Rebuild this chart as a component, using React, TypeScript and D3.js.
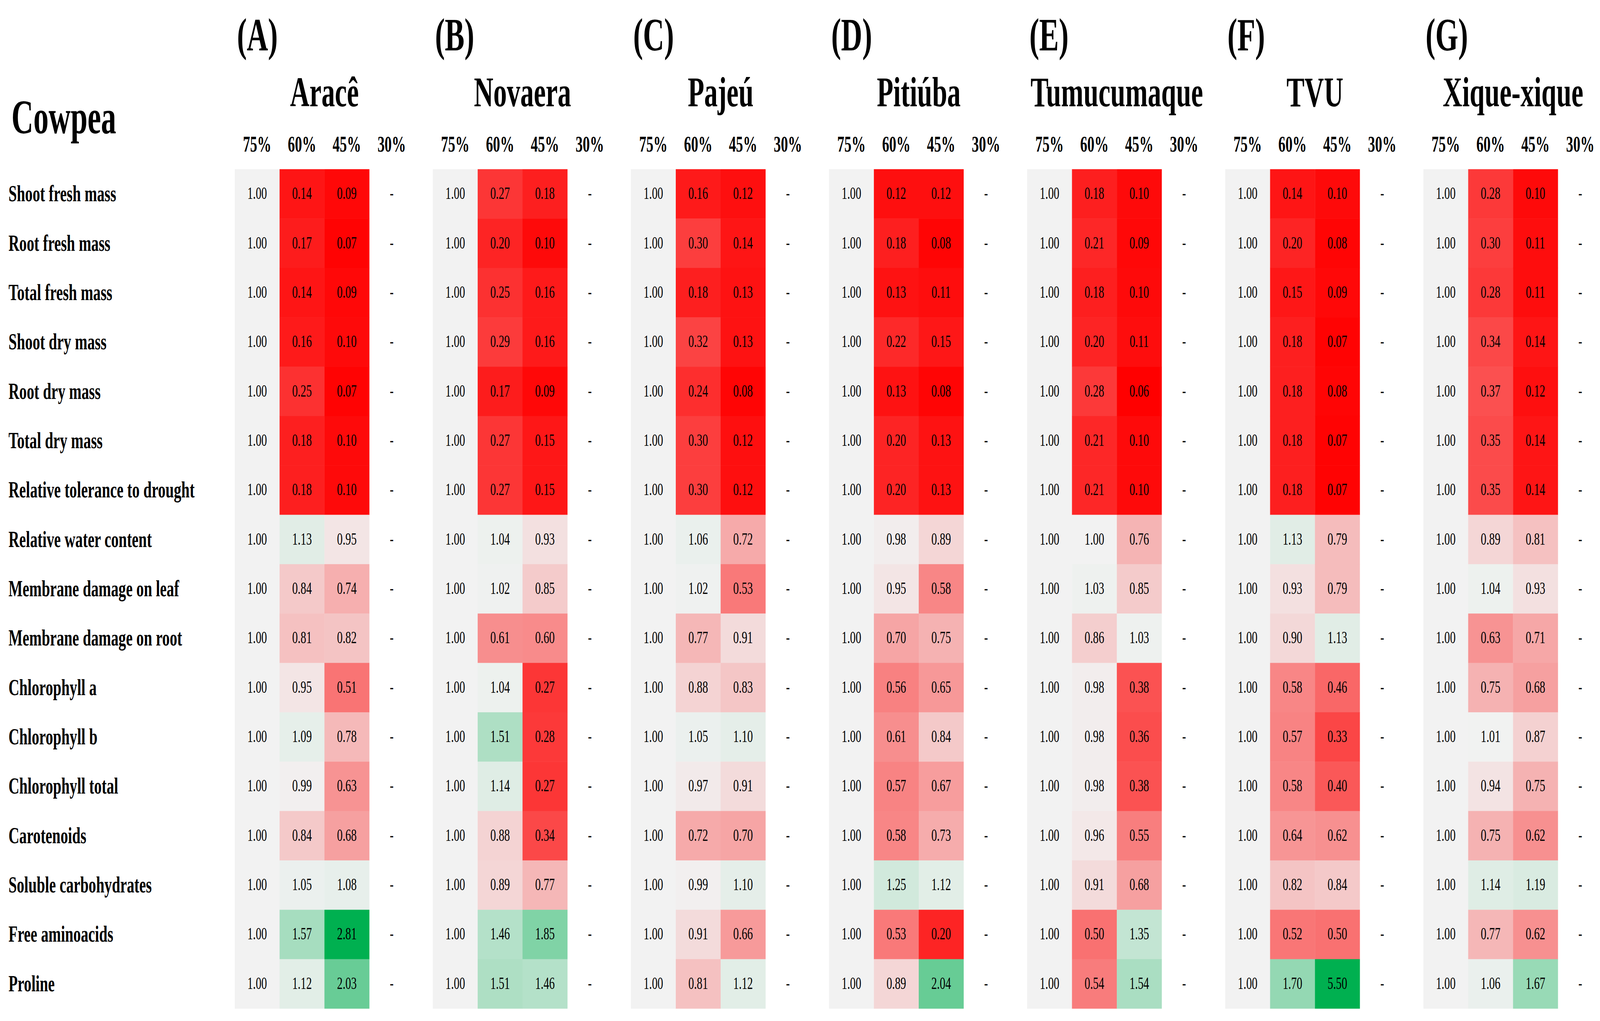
import React, { useEffect } from "react";
import * as d3 from "d3";

const traits = [
  "Shoot fresh mass",
  "Root fresh mass",
  "Total fresh mass",
  "Shoot dry mass",
  "Root dry mass",
  "Total dry mass",
  "Relative tolerance to drought",
  "Relative water content",
  "Membrane damage on leaf",
  "Membrane damage on root",
  "Chlorophyll a",
  "Chlorophyll b",
  "Chlorophyll total",
  "Carotenoids",
  "Soluble carbohydrates",
  "Free aminoacids",
  "Proline",
];

const levels = ["75%", "60%", "45%", "30%"];
const panelLetters = ["(A)", "(B)", "(C)", "(D)", "(E)", "(F)", "(G)"];
const cultivars = ["Aracê", "Novaera", "Pajeú", "Pitiúba", "Tumucumaque", "TVU", "Xique-xique"];

// 75% field capacity is the reference (1.00) for every trait
const control75 = [1.0, 1.0, 1.0, 1.0, 1.0, 1.0, 1.0, 1.0, 1.0, 1.0, 1.0, 1.0, 1.0, 1.0, 1.0, 1.0, 1.0];

const arace60 = [0.14, 0.17, 0.14, 0.16, 0.25, 0.18, 0.18, 1.13, 0.84, 0.81, 0.95, 1.09, 0.99, 0.84, 1.05, 1.57, 1.12];
const arace45 = [0.09, 0.07, 0.09, 0.1, 0.07, 0.1, 0.1, 0.95, 0.74, 0.82, 0.51, 0.78, 0.63, 0.68, 1.08, 2.81, 2.03];
const novaera60 = [0.27, 0.2, 0.25, 0.29, 0.17, 0.27, 0.27, 1.04, 1.02, 0.61, 1.04, 1.51, 1.14, 0.88, 0.89, 1.46, 1.51];
const novaera45 = [0.18, 0.1, 0.16, 0.16, 0.09, 0.15, 0.15, 0.93, 0.85, 0.6, 0.27, 0.28, 0.27, 0.34, 0.77, 1.85, 1.46];
const pajeu60 = [0.16, 0.3, 0.18, 0.32, 0.24, 0.3, 0.3, 1.06, 1.02, 0.77, 0.88, 1.05, 0.97, 0.72, 0.99, 0.91, 0.81];
const pajeu45 = [0.12, 0.14, 0.13, 0.13, 0.08, 0.12, 0.12, 0.72, 0.53, 0.91, 0.83, 1.1, 0.91, 0.7, 1.1, 0.66, 1.12];
const pitiuba60 = [0.12, 0.18, 0.13, 0.22, 0.13, 0.2, 0.2, 0.98, 0.95, 0.7, 0.56, 0.61, 0.57, 0.58, 1.25, 0.53, 0.89];
const pitiuba45 = [0.12, 0.08, 0.11, 0.15, 0.08, 0.13, 0.13, 0.89, 0.58, 0.75, 0.65, 0.84, 0.67, 0.73, 1.12, 0.2, 2.04];
const tumucumaque60 = [0.18, 0.21, 0.18, 0.2, 0.28, 0.21, 0.21, 1.0, 1.03, 0.86, 0.98, 0.98, 0.98, 0.96, 0.91, 0.5, 0.54];
const tumucumaque45 = [0.1, 0.09, 0.1, 0.11, 0.06, 0.1, 0.1, 0.76, 0.85, 1.03, 0.38, 0.36, 0.38, 0.55, 0.68, 1.35, 1.54];
const tvu60 = [0.14, 0.2, 0.15, 0.18, 0.18, 0.18, 0.18, 1.13, 0.93, 0.9, 0.58, 0.57, 0.58, 0.64, 0.82, 0.52, 1.7];
const tvu45 = [0.1, 0.08, 0.09, 0.07, 0.08, 0.07, 0.07, 0.79, 0.79, 1.13, 0.46, 0.33, 0.4, 0.62, 0.84, 0.5, 5.5];
const xique60 = [0.28, 0.3, 0.28, 0.34, 0.37, 0.35, 0.35, 0.89, 1.04, 0.63, 0.75, 1.01, 0.94, 0.75, 1.14, 0.77, 1.06];
const xique45 = [0.1, 0.11, 0.11, 0.14, 0.12, 0.14, 0.14, 0.81, 0.93, 0.71, 0.68, 0.87, 0.75, 0.62, 1.19, 0.62, 1.67];

const series60 = [arace60, novaera60, pajeu60, pitiuba60, tumucumaque60, tvu60, xique60];
const series45 = [arace45, novaera45, pajeu45, pitiuba45, tumucumaque45, tvu45, xique45];

// colour scale stops (red = low, grey = 1.00, green = high, clamped)
const colorDomain = [0.06, 1.0, 2.81];
const colorRange = ["#ff0000", "#f2f2f2", "#00b050"];

const W = 6421;
const H = 2613;
const FONT = "'Liberation Serif', 'Times New Roman', Times, serif";

export default function App() {
  useEffect(() => {
    document.body.style.margin = "0";
    document.body.style.overflow = "hidden";
    document.documentElement.style.overflow = "hidden";
  }, []);

  const panelScale = d3
    .scaleBand<string>()
    .domain(cultivars)
    .range([942, 942 + 7 * 795 - 75])
    .paddingInner(75 / 795)
    .paddingOuter(0);
  const colScale = d3.scaleBand<string>().domain(levels).range([0, panelScale.bandwidth()]);
  const rowScale = d3.scaleBand<string>().domain(traits).range([433, 2581]);
  const color = d3
    .scaleLinear<string>()
    .domain(colorDomain)
    .range(colorRange)
    .interpolate(d3.interpolateRgb)
    .clamp(true);

  const cw = colScale.bandwidth();
  const rh = rowScale.bandwidth();

  return (
    <svg
      viewBox={`0 0 ${W} ${H}`}
      preserveAspectRatio="none"
      style={{
        position: "fixed",
        left: 0,
        top: 0,
        width: "100vw",
        height: "100vh",
        display: "block",
        background: "#ffffff",
      }}
      fontFamily={FONT}
    >
      <rect x={0} y={0} width={W} height={H} fill="#ffffff" />
      <text x={46} y={341} fontSize={122} fontWeight="bold" fill="#000">
        Cowpea
      </text>
      {traits.map((t) => (
        <text
          key={t}
          x={34}
          y={(rowScale(t) as number) + rh / 2 + 19}
          fontSize={60}
          fontWeight="bold"
          fill="#000"
        >
          {t}
        </text>
      ))}
      {cultivars.map((c, pi) => {
        const px = panelScale(c) as number;
        const cols = [control75, series60[pi], series45[pi], null];
        return (
          <g key={c}>
            <text x={px + 9} y={129} fontSize={118} fontWeight="bold" fill="#000">
              {panelLetters[pi]}
            </text>
            <text
              x={px + panelScale.bandwidth() / 2}
              y={272}
              fontSize={108}
              fontWeight="bold"
              textAnchor="middle"
              fill="#000"
            >
              {c}
            </text>
            {levels.map((lv) => (
              <text
                key={lv}
                x={px + (colScale(lv) as number) + cw / 2}
                y={388}
                fontSize={57}
                fontWeight="bold"
                textAnchor="middle"
                fill="#000"
              >
                {lv}
              </text>
            ))}
            {levels.map((lv, li) => {
              const vals = cols[li];
              const cx = px + (colScale(lv) as number);
              return traits.map((t, ti) => {
                const y = rowScale(t) as number;
                if (!vals) {
                  return (
                    <text
                      key={lv + t}
                      x={cx + cw / 2}
                      y={y + rh / 2 + 13}
                      fontSize={45}
                      textAnchor="middle"
                      fill="#000"
                    >
                      -
                    </text>
                  );
                }
                const v = vals[ti];
                return (
                  <g key={lv + t}>
                    <rect x={cx} y={y} width={cw + 0.5} height={rh + 0.5} fill={color(v)} />
                    <text
                      x={cx + cw / 2}
                      y={y + rh / 2 + 13}
                      fontSize={45}
                      textAnchor="middle"
                      fill="#000"
                    >
                      {v.toFixed(2)}
                    </text>
                  </g>
                );
              });
            })}
          </g>
        );
      })}
    </svg>
  );
}
